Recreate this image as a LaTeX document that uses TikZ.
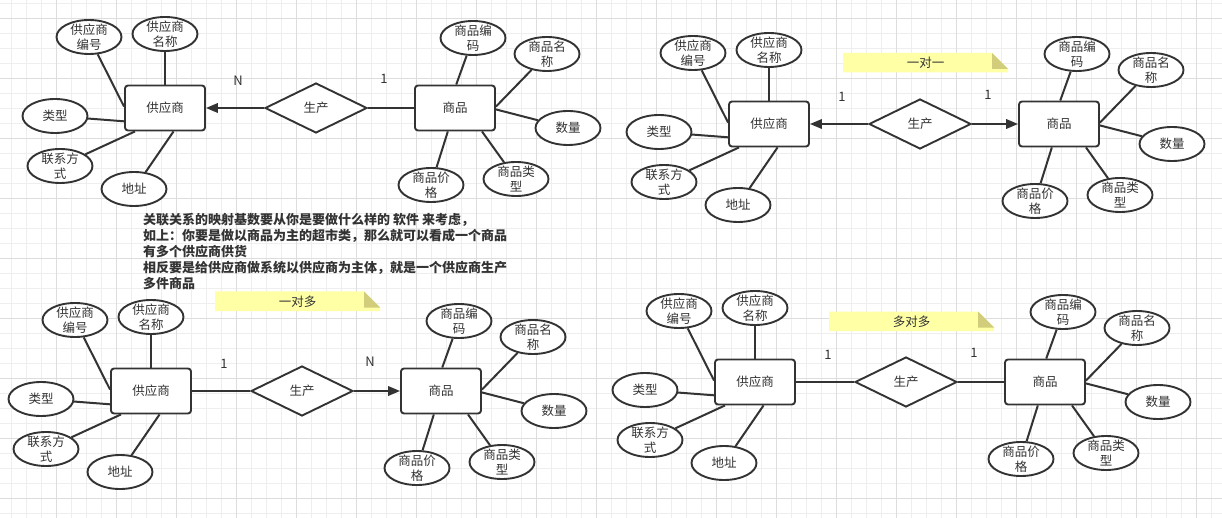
\documentclass[tikz,border=0pt]{standalone}
\usepackage{fontspec}
\setmainfont{Noto Sans CJK SC}
\usetikzlibrary{positioning, arrows.meta, shapes.geometric}
\definecolor{inkc}{HTML}{333333}
\definecolor{gridminor}{HTML}{EEEEEE}
\definecolor{gridmajor}{HTML}{DDDDDD}
\definecolor{notebg}{HTML}{FFFFA6}
\definecolor{notefold}{HTML}{D2CD7A}

% one supplier--goods diagram: prefix, x, y, left link, right link, left card, right card
\newcommand\ergroup[7]{%
  \begin{scope}[shift={(#2,#3)}]
    \node[entity] (#1sup) at (0,0) {供应商};
    \node[relation] (#1rel) at (151,0) {生产};
    \node[entity] (#1goods) at (290,0) {商品};

    \node[attr] (#1sid) at (-76,-71) {供应商\\编号};
    \node[attr] (#1sname) at (0,-74) {供应商\\名称};
    \node[attr] (#1stype) at (-110,8) {类型};
    \node[attr] (#1scontact) at (-105,58) {联系方\\式};
    \node[attr] (#1saddr) at (-31,81) {地址};

    \node[attr] (#1gid) at (308,-70) {商品编\\码};
    \node[attr] (#1gname) at (382,-54) {商品名\\称};
    \node[attr] (#1gnum) at (403,20) {数量};
    \node[attr] (#1gprice) at (266,77) {商品价\\格};
    \node[attr] (#1gtype) at (351,71) {商品类\\型};

    \node[card] (#1lcard) at (73,-27) {#6};
    \node[card] (#1rcard) at (219,-29) {#7};

    \draw[#4] (#1rel) -- (#1sup);
    \draw[#5] (#1rel) -- (#1goods);

    \draw[link] (#1sid) -- (#1sup.178);
    \draw[link] (#1sname) -- (#1sup.90);
    \draw[link] (#1stype) -- (#1sup.198);
    \draw[link] (#1scontact) -- (#1sup.218);
    \draw[link] (#1saddr) -- (#1sup.290);
    \draw[link] (#1gid) -- (#1goods.87);
    \draw[link] (#1gname) -- (#1goods.2);
    \draw[link] (#1gnum) -- (#1goods.358);
    \draw[link] (#1gprice) -- (#1goods.253);
    \draw[link] (#1gtype) -- (#1goods.319);
  \end{scope}}

% yellow sticky note: name, left x, top y, text
\newcommand\stickynote[4]{%
  \fill[notebg] (#2,#3) -- ++(149,0) -- ++(16,16) -- ++(0,3.5) -- ++(-165,0) -- cycle;
  \fill[notefold] (#2+149,#3) -- ++(16,16) -- ++(-16,0) -- cycle;
  \node[notetext] (#1) at (#2+82.5,#3+10) {#4};}

\begin{document}
\begin{tikzpicture}[
    x=1pt, y=-1pt,
    entity/.style={rectangle, draw=inkc, fill=white, rounded corners=3pt, line width=1.9pt, minimum width=80pt, minimum height=45pt, text=inkc, font={\fontsize{12.5}{15}\selectfont}},
    relation/.style={diamond, draw=inkc, fill=white, line width=1.9pt, minimum width=102pt, minimum height=50pt, inner sep=0pt, text=inkc, font={\fontsize{12.5}{15}\selectfont}},
    attr/.style={ellipse, draw=inkc, fill=white, line width=1.9pt, minimum width=65pt, minimum height=34pt, inner xsep=0pt, inner ysep=-4pt, align=center, text=inkc, font={\fontsize{12.5}{15}\selectfont}},
    card/.style={text=inkc, inner sep=0pt, font={\fontsize{13}{15}\selectfont}},
    notetext/.style={text=inkc, inner sep=0pt, font={\fontsize{12.5}{15}\selectfont}},
    link/.style={draw=inkc, line width=2pt},
    arrow/.style={link, -{Triangle[length=12pt, width=9.5pt]}},
  ]
    \useasboundingbox (0,0) rectangle (1222,518);
    \fill[white] (0,0) rectangle (1222,518);

    % background grid
    \foreach \gx in {11.7,26.7,...,1222} \draw[gridminor, line width=1pt] (\gx,0) -- (\gx,518);
    \foreach \gy in {3.3,18.3,...,518} \draw[gridminor, line width=1pt] (0,\gy) -- (1222,\gy);
    \foreach \gx in {56.7,116.7,...,1222} \draw[gridmajor, line width=1pt] (\gx,0) -- (\gx,518);
    \foreach \gy in {18.3,78.3,...,518} \draw[gridmajor, line width=1pt] (0,\gy) -- (1222,\gy);

    \stickynote{one2one}{843}{53}{一对一}
    \stickynote{one2many}{215}{291.5}{一对多}
    \stickynote{many2many}{829}{311.5}{多对多}

    \ergroup{a}{165}{108}{arrow}{link}{N}{1}
    \ergroup{b}{769}{124}{arrow}{arrow}{1}{1}
    \ergroup{c}{151}{391}{link}{arrow}{1}{N}
    \ergroup{d}{755}{382}{link}{link}{1}{1}

    \node[anchor=north west, inner sep=0pt, align=left, text=inkc, font={\fontsize{13}{16}\selectfont\bfseries}] (remark) at (143,213.5)
      {关联关系的映射基数要从你是要做什么样的 软件 来考虑，\\
       如上：你要是做以商品为主的超市类，那么就可以看成一个商品\\
       有多个供应商供货\\
       相反要是给供应商做系统以供应商为主体，就是一个供应商生产\\
       多件商品};
\end{tikzpicture}
\end{document}
